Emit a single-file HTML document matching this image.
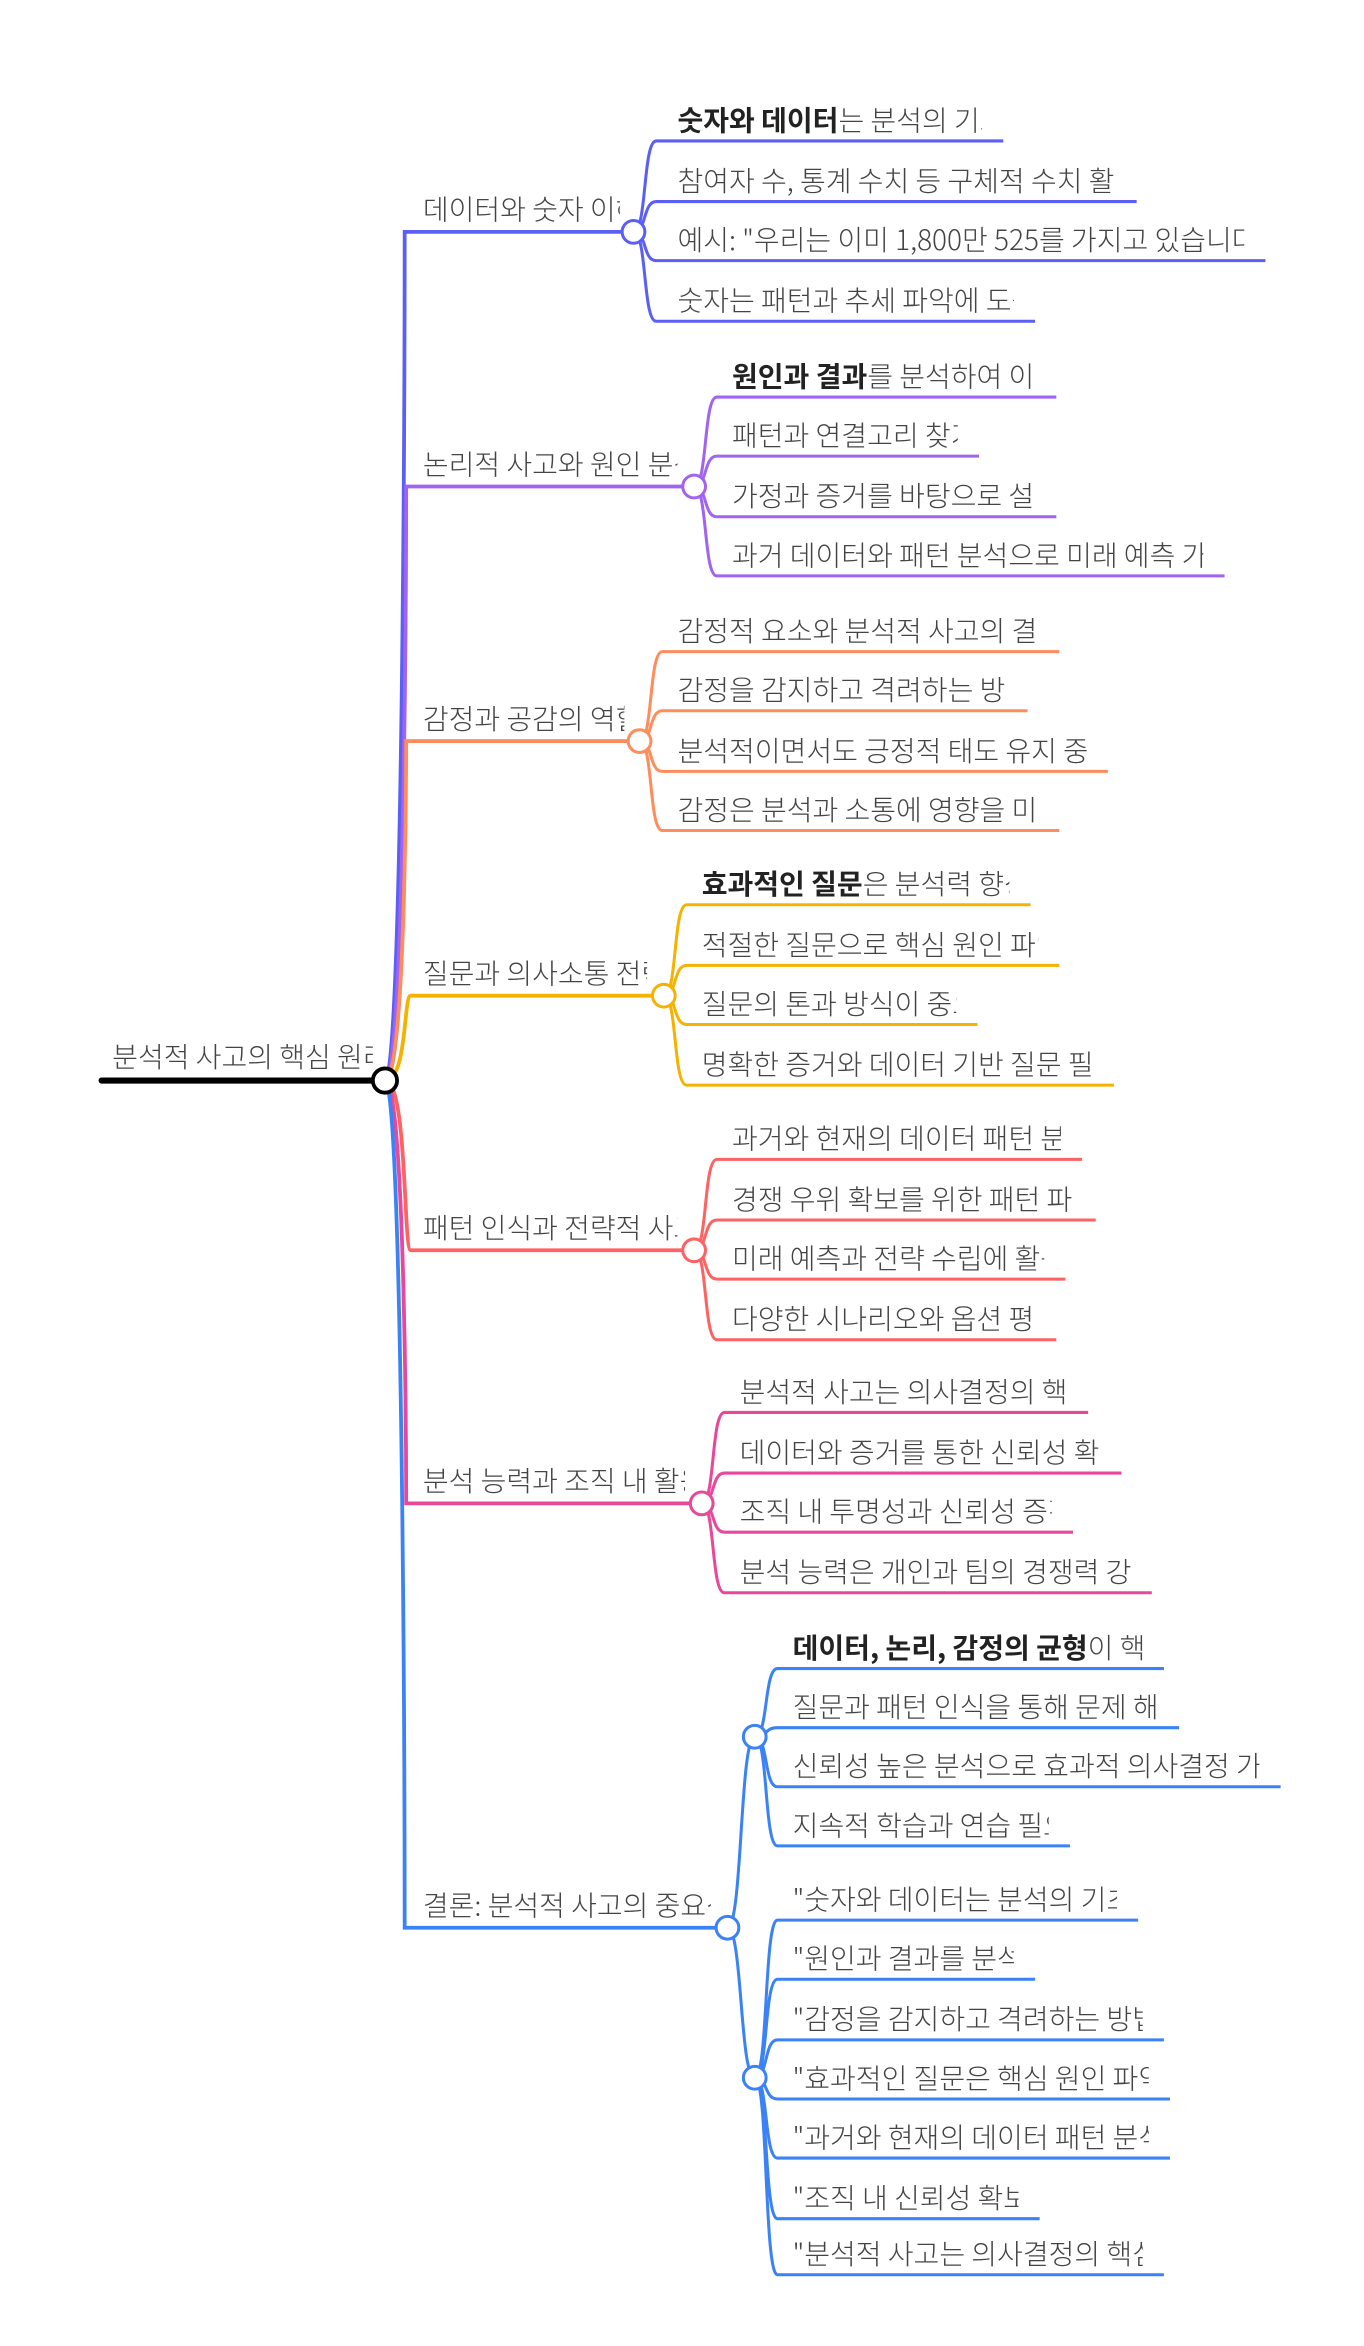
<!DOCTYPE html>
<html><head><meta charset="utf-8"><style>
html,body{margin:0;padding:0;background:#fff;}
svg{display:block;}
text{font-family:"Noto Sans CJK KR","Liberation Sans",sans-serif;font-size:18.5px;fill:#444;font-weight:300;}
.b{font-weight:700;fill:#222;}
</style></head><body>
<svg width="1364" height="2346" viewBox="0 0 900 1548" xmlns="http://www.w3.org/2000/svg">
<g fill="none" stroke-linecap="round">
<path d="M254,713 C267,713 267,153 267,153 L271,153 L418,153" stroke="#5b5ff5" stroke-width="2.5"/>
<path d="M254,713 C268,713 268,321 268,321 L271,321 L455,321" stroke="#a064f0" stroke-width="2.5"/>
<path d="M254,713 C268,713 268,489 268,489 L271,489 L420,489" stroke="#ff8c5c" stroke-width="2.5"/>
<path d="M254,713 C269,713 266,657 271,657 L436,657" stroke="#f5b300" stroke-width="2.5"/>
<path d="M254,713 C269,713 266,825 271,825 L455,825" stroke="#ff6262" stroke-width="2.5"/>
<path d="M254,713 C268,713 268,992 268,992 L271,992 L460,992" stroke="#e8479a" stroke-width="2.5"/>
<path d="M254,713 C267,713 267,1272 267,1272 L271,1272 L477,1272" stroke="#3b82f6" stroke-width="2.5"/>
<path d="M67,713 L254,713" stroke="#000" stroke-width="4"/>
</g>
<g fill="none" stroke-width="2">
<g stroke="#5b5ff5">
<path d="M418,153 C427,153 424,93 433,93 L662,93"/>
<path d="M418,153 C427,153 424,133 433,133 L750,133"/>
<path d="M418,153 C427,153 424,172 433,172 L835,172"/>
<path d="M418,153 C427,153 424,212 433,212 L683,212"/>
</g>
<g stroke="#a064f0">
<path d="M458,321 C467,321 464,262 473,262 L697,262"/>
<path d="M458,321 C467,321 464,301 473,301 L646,301"/>
<path d="M458,321 C467,321 464,341 473,341 L697,341"/>
<path d="M458,321 C467,321 464,380 473,380 L808,380"/>
</g>
<g stroke="#ff8c5c">
<path d="M422,489 C431,489 428,430 437,430 L699,430"/>
<path d="M422,489 C431,489 428,469 437,469 L678,469"/>
<path d="M422,489 C431,489 428,509 437,509 L731,509"/>
<path d="M422,489 C431,489 428,548 437,548 L699,548"/>
</g>
<g stroke="#f5b300">
<path d="M438,657 C447,657 444,597 453,597 L680,597"/>
<path d="M438,657 C447,657 444,637 453,637 L699,637"/>
<path d="M438,657 C447,657 444,676 453,676 L645,676"/>
<path d="M438,657 C447,657 444,716 453,716 L735,716"/>
</g>
<g stroke="#ff6262">
<path d="M458,825 C467,825 464,765 473,765 L714,765"/>
<path d="M458,825 C467,825 464,805 473,805 L723,805"/>
<path d="M458,825 C467,825 464,844 473,844 L703,844"/>
<path d="M458,825 C467,825 464,884 473,884 L697,884"/>
</g>
<g stroke="#e8479a">
<path d="M463,992 C472,992 469,932 478,932 L718,932"/>
<path d="M463,992 C472,992 469,972 478,972 L740,972"/>
<path d="M463,992 C472,992 469,1011 478,1011 L708,1011"/>
<path d="M463,992 C472,992 469,1051 478,1051 L760,1051"/>
</g>
<g stroke="#3b82f6">
<path d="M480,1272 C490,1272 488,1146 498,1146"/>
<path d="M480,1272 C490,1272 488,1371 498,1371"/>
<path d="M498,1146 C507,1146 504,1101 513,1101 L768,1101"/>
<path d="M498,1146 C507,1146 504,1140 513,1140 L778,1140"/>
<path d="M498,1146 C507,1146 504,1179 513,1179 L845,1179"/>
<path d="M498,1146 C507,1146 504,1218 513,1218 L706,1218"/>
<path d="M498,1371 C507,1371 504,1267 513,1267 L751,1267"/>
<path d="M498,1371 C507,1371 504,1306 513,1306 L683,1306"/>
<path d="M498,1371 C507,1371 504,1346 513,1346 L768,1346"/>
<path d="M498,1371 C507,1371 504,1385 513,1385 L772,1385"/>
<path d="M498,1371 C507,1371 504,1424 513,1424 L772,1424"/>
<path d="M498,1371 C507,1371 504,1464 513,1464 L686,1464"/>
<path d="M498,1371 C507,1371 504,1501 513,1501 L768,1501"/>
</g>
</g>
<g fill="#fff" stroke-width="2">
<circle cx="254" cy="713" r="8" stroke="#000" stroke-width="2.5"/>
<circle cx="418" cy="153" r="7.5" stroke="#5b5ff5"/>
<circle cx="458" cy="321" r="7.5" stroke="#a064f0"/>
<circle cx="422" cy="489" r="7.5" stroke="#ff8c5c"/>
<circle cx="438" cy="657" r="7.5" stroke="#f5b300"/>
<circle cx="458" cy="825" r="7.5" stroke="#ff6262"/>
<circle cx="463" cy="992" r="7.5" stroke="#e8479a"/>
<circle cx="480" cy="1272" r="7.5" stroke="#3b82f6"/>
<circle cx="498" cy="1146" r="7.5" stroke="#3b82f6"/>
<circle cx="498" cy="1371" r="7.5" stroke="#3b82f6"/>
</g>
<svg x="74" y="680" width="172" height="30"><text x="0" y="24">분석적 사고의 핵심 원리</text></svg>
<svg x="279" y="120" width="130" height="30"><text x="0" y="25">데이터와 숫자 이해</text></svg>
<svg x="279" y="288" width="168" height="30"><text x="0" y="25">논리적 사고와 원인 분석</text></svg>
<svg x="279" y="456" width="133" height="30"><text x="0" y="25">감정과 공감의 역할</text></svg>
<svg x="279" y="624" width="148" height="30"><text x="0" y="25">질문과 의사소통 전략</text></svg>
<svg x="279" y="792" width="168" height="30"><text x="0" y="25">패턴 인식과 전략적 사고</text></svg>
<svg x="279" y="959" width="173" height="30"><text x="0" y="25">분석 능력과 조직 내 활용</text></svg>
<svg x="279" y="1239" width="190" height="30"><text x="0" y="25">결론: 분석적 사고의 중요성</text></svg>

<svg x="447" y="62" width="201" height="30"><text x="0" y="24"><tspan class="b">숫자와 데이터</tspan>는 분석의 기초</text></svg>
<svg x="447" y="102" width="289" height="30"><text x="0" y="24">참여자 수, 통계 수치 등 구체적 수치 활용</text></svg>
<svg x="447" y="141" width="374" height="30"><text x="0" y="24">예시: "우리는 이미 1,800만 525를 가지고 있습니다"</text></svg>
<svg x="447" y="181" width="222" height="30"><text x="0" y="24">숫자는 패턴과 추세 파악에 도움</text></svg>

<svg x="483" y="231" width="200" height="30"><text x="0" y="24"><tspan class="b">원인과 결과</tspan>를 분석하여 이해</text></svg>
<svg x="483" y="270" width="149" height="30"><text x="0" y="24">패턴과 연결고리 찾기</text></svg>
<svg x="483" y="310" width="200" height="30"><text x="0" y="24">가정과 증거를 바탕으로 설명</text></svg>
<svg x="483" y="349" width="311" height="30"><text x="0" y="24">과거 데이터와 패턴 분석으로 미래 예측 가능</text></svg>

<svg x="447" y="399" width="238" height="30"><text x="0" y="24">감정적 요소와 분석적 사고의 결합</text></svg>
<svg x="447" y="438" width="217" height="30"><text x="0" y="24">감정을 감지하고 격려하는 방법</text></svg>
<svg x="447" y="478" width="270" height="30"><text x="0" y="24">분석적이면서도 긍정적 태도 유지 중요</text></svg>
<svg x="447" y="517" width="238" height="30"><text x="0" y="24">감정은 분석과 소통에 영향을 미침</text></svg>

<svg x="463" y="566" width="203" height="30"><text x="0" y="24"><tspan class="b">효과적인 질문</tspan>은 분석력 향상</text></svg>
<svg x="463" y="606" width="222" height="30"><text x="0" y="24">적절한 질문으로 핵심 원인 파악</text></svg>
<svg x="463" y="645" width="168" height="30"><text x="0" y="24">질문의 톤과 방식이 중요</text></svg>
<svg x="463" y="685" width="258" height="30"><text x="0" y="24">명확한 증거와 데이터 기반 질문 필요</text></svg>

<svg x="483" y="734" width="217" height="30"><text x="0" y="24">과거와 현재의 데이터 패턴 분석</text></svg>
<svg x="483" y="774" width="226" height="30"><text x="0" y="24">경쟁 우위 확보를 위한 패턴 파악</text></svg>
<svg x="483" y="813" width="206" height="30"><text x="0" y="24">미래 예측과 전략 수립에 활용</text></svg>
<svg x="483" y="853" width="200" height="30"><text x="0" y="24">다양한 시나리오와 옵션 평가</text></svg>

<svg x="488" y="901" width="216" height="30"><text x="0" y="24">분석적 사고는 의사결정의 핵심</text></svg>
<svg x="488" y="941" width="238" height="30"><text x="0" y="24">데이터와 증거를 통한 신뢰성 확보</text></svg>
<svg x="488" y="980" width="206" height="30"><text x="0" y="24">조직 내 투명성과 신뢰성 증진</text></svg>
<svg x="488" y="1020" width="258" height="30"><text x="0" y="24">분석 능력은 개인과 팀의 경쟁력 강화</text></svg>

<svg x="523" y="1070" width="231" height="30"><text x="0" y="24"><tspan class="b">데이터, 논리, 감정의 균형</tspan>이 핵심</text></svg>
<svg x="523" y="1109" width="241" height="30"><text x="0" y="24">질문과 패턴 인식을 통해 문제 해결</text></svg>
<svg x="523" y="1148" width="308" height="30"><text x="0" y="24">신뢰성 높은 분석으로 효과적 의사결정 가능</text></svg>
<svg x="523" y="1187" width="169" height="30"><text x="0" y="24">지속적 학습과 연습 필요</text></svg>

<svg x="523" y="1236" width="214" height="30"><text x="0" y="24">"숫자와 데이터는 분석의 기초"</text></svg>
<svg x="523" y="1275" width="146" height="30"><text x="0" y="24">"원인과 결과를 분석"</text></svg>
<svg x="523" y="1315" width="231" height="30"><text x="0" y="24">"감정을 감지하고 격려하는 방법"</text></svg>
<svg x="523" y="1354" width="235" height="30"><text x="0" y="24">"효과적인 질문은 핵심 원인 파악"</text></svg>
<svg x="523" y="1393" width="235" height="30"><text x="0" y="24">"과거와 현재의 데이터 패턴 분석"</text></svg>
<svg x="523" y="1433" width="149" height="30"><text x="0" y="24">"조직 내 신뢰성 확보"</text></svg>
<svg x="523" y="1470" width="231" height="30"><text x="0" y="24">"분석적 사고는 의사결정의 핵심"</text></svg>
</svg>
</body></html>
